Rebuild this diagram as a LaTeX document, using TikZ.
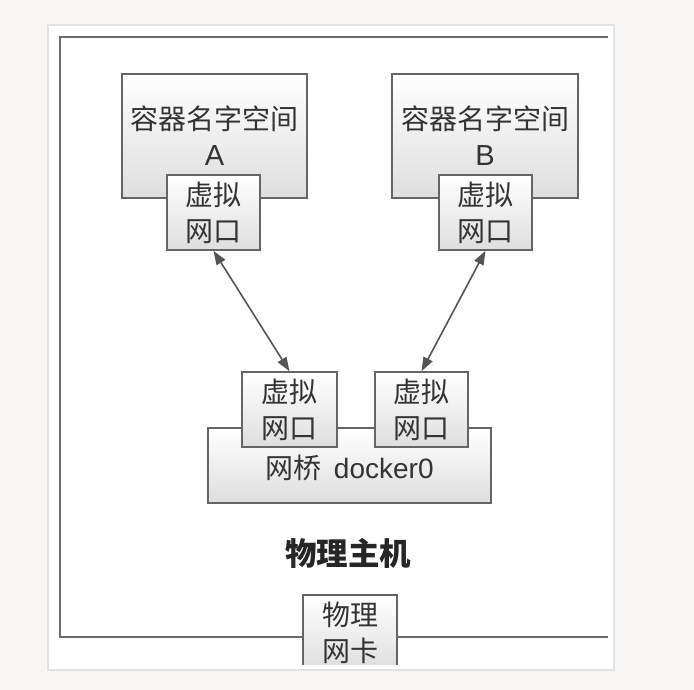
\documentclass[tikz,border=0pt]{standalone}
\usepackage{fontspec}
\setmainfont{Liberation Sans}
\newfontfamily\cjk{Noto Sans CJK SC}
\usetikzlibrary{arrows.meta}
\definecolor{bgc}{HTML}{F7F6F4}
\definecolor{panelc}{HTML}{E2E2E2}
\definecolor{hostc}{HTML}{6C6C6C}
\definecolor{boxc}{HTML}{656565}
\definecolor{txtc}{HTML}{333333}
\definecolor{arrc}{HTML}{555555}
\tikzset{
  gbox/.style={draw=boxc, line width=1.5pt, top color=white, bottom color=black!13,
    inner sep=0pt, align=center, text=txtc, font=\cjk\fontsize{28}{36}\selectfont},
  link/.style={draw=arrc, line width=1.6pt, {Triangle[length=14pt,width=10pt]}-{Triangle[length=14pt,width=10pt]}},
}
\begin{document}
\begin{tikzpicture}[x=1pt,y=-1pt]
\fill[bgc] (0,0) rectangle (694,690);
\useasboundingbox (0,0) rectangle (694,690);
\draw[draw=panelc, fill=white, line width=1.5pt] (48,25) rectangle (614,670);
\draw[hostc, line width=2.2pt] (608,37) -- (60,37) -- (60,637) -- (608,637);

\node[gbox, minimum width=185pt, minimum height=124pt] (nsA) at (214.5,136) {容器名字空间\\{\fontspec{Liberation Sans}\fontsize{29}{36}\selectfont A}};
\node[gbox, minimum width=93pt, minimum height=75pt] (vethA) at (213.5,212.5) {虚拟\\网口};

\node[gbox, minimum width=186pt, minimum height=124pt] (nsB) at (485,136) {容器名字空间\\{\fontspec{Liberation Sans}\fontsize{29}{36}\selectfont B}};
\node[gbox, minimum width=93pt, minimum height=75pt] (vethB) at (485.5,212.5) {虚拟\\网口};

\node[gbox, minimum width=283pt, minimum height=75pt] (br) at (349.5,465.5) {};
\node[text=txtc, font=\cjk\fontsize{28}{36}\selectfont] (brlabel) at (349.5,468) {网桥\hspace{0.45em}{\fontspec{Liberation Sans}docker0}};
\node[gbox, minimum width=95pt, minimum height=75pt] (brL) at (289.5,409.5) {虚拟\\网口};
\node[gbox, minimum width=93pt, minimum height=75pt] (brR) at (421.5,409.5) {虚拟\\网口};

\draw[link] (vethA.south) -- (brL.north);
\draw[link] (vethB.south) -- (brR.north);

\node[text=black!85, font=\cjk\bfseries\fontsize{31.5}{36}\selectfont] (host) at (348,553) {物理主机};

\begin{scope}
\clip (290,580) rectangle (410,664);
\node[gbox, minimum width=94pt, minimum height=75pt] (nic) at (350,632.5) {物理\\网卡};
\end{scope}
\end{tikzpicture}
\end{document}
